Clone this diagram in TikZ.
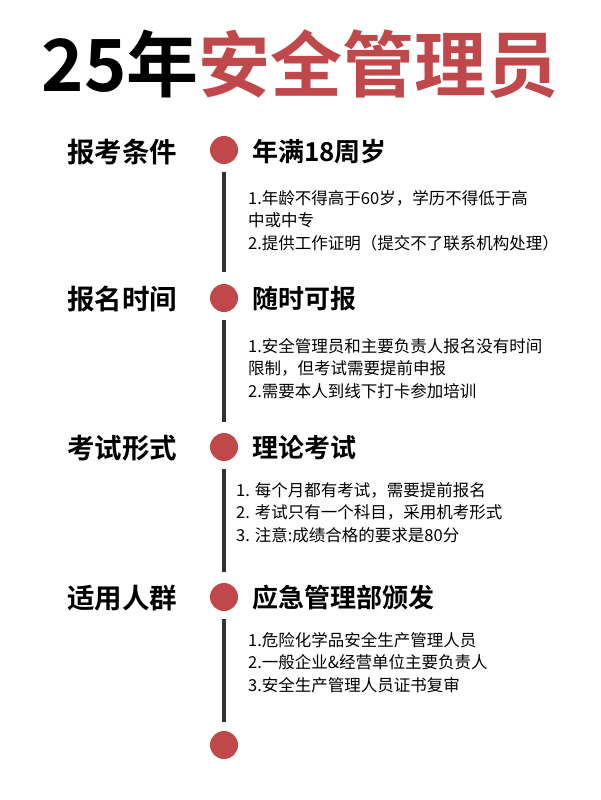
\documentclass[tikz,border=0pt]{standalone}
\usepackage{fontspec}
\newfontfamily\cjk{Noto Sans CJK SC}
\newfontfamily\cjkb{Noto Sans CJK SC Bold}
\definecolor{rd}{HTML}{C0474A}
\definecolor{ln}{HTML}{333333}
\begin{document}
\begin{tikzpicture}[x=1pt,y=-1pt,
  lab/.style={anchor=west,font=\cjkb\fontsize{27.5}{30}\selectfont,text=black,inner sep=0},
  head/.style={anchor=west,font=\cjkb\fontsize{26}{30}\selectfont,text=black,inner sep=0},
  body/.style={anchor=north west,font=\cjk\fontsize{16.5}{22.5}\selectfont,align=left,inner sep=0},
  dot/.style={circle,fill=rd,minimum size=28,inner sep=0}]
\useasboundingbox (0,0) rectangle (600,800);
\node[anchor=center,inner sep=0] (t) at (300,64) {\cjkb\fontsize{72}{76}\selectfont 25年\textcolor{rd}{安全管理员}};
\node[dot] (d1) at (224,150) {};
\node[dot] (d2) at (224,298) {};
\node[dot] (d3) at (224,447) {};
\node[dot] (d4) at (224,597) {};
\node[dot] (d5) at (224,745) {};
\draw[ln,line width=3.5] (224,172) -- (224,272);
\draw[ln,line width=3.5] (224,320) -- (224,422);
\draw[ln,line width=3.5] (224,469) -- (224,572);
\draw[ln,line width=3.5] (224,619) -- (224,722);
\node[lab] (l1) at (67,152) {报考条件};
\node[lab] (l2) at (67,299) {报名时间};
\node[lab] (l3) at (67,448) {考试形式};
\node[lab] (l4) at (67,598) {适用人群};
\node[head] (h1) at (252,152) {年满18周岁};
\node[head] (h2) at (252,299) {随时可报};
\node[head] (h3) at (252,448) {理论考试};
\node[head] (h4) at (252,598) {应急管理部颁发};
\node[body] (b1) at (248,190) {1.年龄不得高于60岁，学历不得低于高\\中或中专\\2.提供工作证明（提交不了联系机构处理）};
\node[body] (b2) at (248,338) {1.安全管理员和主要负责人报名没有时间\\限制，但考试需要提前申报\\2.需要本人到线下打卡参加培训};
\node[body] (b3) at (236,482) {1. 每个月都有考试，需要提前报名\\2. 考试只有一个科目，采用机考形式\\3. 注意:成绩合格的要求是80分};
\node[body] (b4) at (248,632) {1.危险化学品安全生产管理人员\\2.一般企业\&经营单位主要负责人\\3.安全生产管理人员证书复审};
\end{tikzpicture}
\end{document}
